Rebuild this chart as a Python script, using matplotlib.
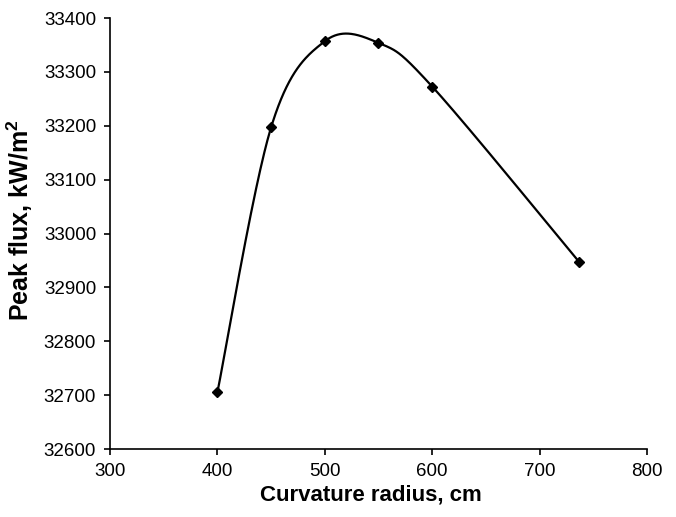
import numpy as np
import matplotlib
matplotlib.use("Agg")
import matplotlib.pyplot as plt

# values
radius_cm = [400, 450, 500, 550, 600, 737]
peak_flux = [32705, 33197, 33357, 33354, 33273, 32947]

x_ticks = [300, 400, 500, 600, 700, 800]
y_ticks = [32600, 32700, 32800, 32900, 33000, 33100, 33200, 33300, 33400]

FONT = ["Liberation Sans Narrow", "Liberation Sans", "DejaVu Sans"]
plt.rcParams["mathtext.fontset"] = "custom"
plt.rcParams["mathtext.rm"] = "Liberation Sans:bold"
plt.rcParams["mathtext.bf"] = "Liberation Sans:bold"


def excel_smooth(x, y, xr, yr, n=60):
    """Catmull-Rom style bezier through the points, done in normalised
    axis space so it bends the same way Excel's 'smoothed line' does."""
    px = (np.asarray(x, float) - xr[0]) / (xr[1] - xr[0])
    py = (np.asarray(y, float) - yr[0]) / (yr[1] - yr[0]) * 0.8
    pts = np.column_stack([px, py])
    pts = np.vstack([pts[0], pts, pts[-1]])
    t = np.linspace(0, 1, n)[:, None]
    out = []
    for i in range(1, len(pts) - 2):
        p0, p1, p2, p3 = pts[i - 1], pts[i], pts[i + 1], pts[i + 2]
        b1 = p1 + (p2 - p0) / 6
        b2 = p2 - (p3 - p1) / 6
        seg = ((1 - t) ** 3) * p1 + 3 * ((1 - t) ** 2) * t * b1 \
            + 3 * (1 - t) * t ** 2 * b2 + t ** 3 * p2
        out.append(seg)
    c = np.vstack(out)
    cx = c[:, 0] * (xr[1] - xr[0]) + xr[0]
    cy = c[:, 1] / 0.8 * (yr[1] - yr[0]) + yr[0]
    return cx, cy


fig = plt.figure(figsize=(6.76, 5.17), dpi=100)
ax = fig.add_axes([0.1627, 0.1315, 0.7943, 0.8335])

xr = (300, 800)
yr = (32600, 33400)
sx, sy = excel_smooth(radius_cm, peak_flux, xr, yr)
ax.plot(sx, sy, color="black", lw=1.6)
ax.plot(radius_cm, peak_flux, linestyle="none", marker="D", ms=5.5,
        color="black")

ax.set_xlim(*xr)
ax.set_ylim(*yr)
ax.set_xticks(x_ticks)
ax.set_yticks(y_ticks)
for s in ("top", "right"):
    ax.spines[s].set_visible(False)
for s in ("left", "bottom"):
    ax.spines[s].set_linewidth(1.2)
ax.tick_params(direction="out", length=4, width=1.2, pad=6)
for lab in ax.get_xticklabels() + ax.get_yticklabels():
    lab.set_fontfamily(FONT)
    lab.set_fontsize(13.5)

ax.set_xlabel("Curvature radius, cm", family=FONT, fontsize=16,
              fontweight="bold")
ax.set_ylabel(r"Peak flux, kW/m$^{2}$", family=FONT, fontsize=18,
              fontweight="bold")
ax.xaxis.set_label_coords(0.486, -0.083)
ax.yaxis.set_label_coords(-0.14, 0.531)

fig.savefig("out.png", dpi=100)
